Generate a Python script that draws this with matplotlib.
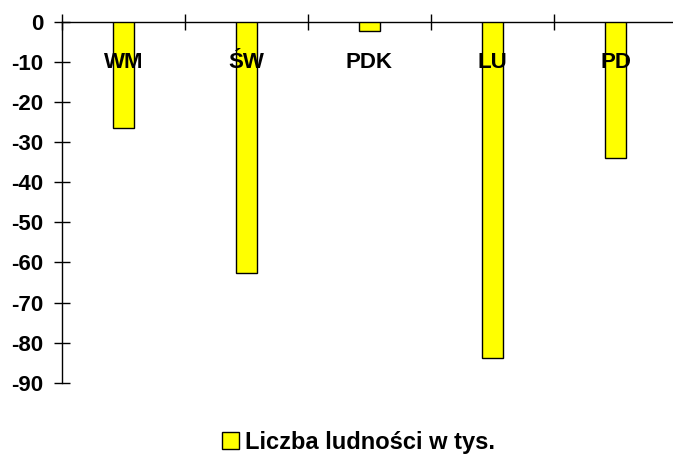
import numpy as np
import matplotlib.pyplot as plt

# data
categories = ["WM", "ŚW", "PDK", "LU", "PD"]
values = [-26.5, -62.5, -2.3, -83.9, -34.0]
series_name = "Liczba ludności w tys."
yticks = np.arange(-90, 1, 10)

plt.rcParams["font.family"] = ["Liberation Sans", "DejaVu Sans"]
plt.rcParams["font.weight"] = "bold"

fig = plt.figure(figsize=(6.73, 4.54), dpi=100)
ax = fig.add_axes([0.0921, 0.157, 0.9138, 0.7945])

x = np.arange(len(categories))
ax.bar(x, values, width=0.17, color="#FFFF00", edgecolor="black",
       linewidth=1, label=series_name, zorder=3)

ax.set_xlim(-0.5, len(categories) - 0.5)
ax.set_ylim(-90, 0)
ax.set_yticks(yticks)
ax.set_yticklabels([str(v) for v in yticks], fontsize=16, fontweight="bold")
ax.tick_params(axis="y", direction="inout", length=11, width=1, pad=8)

# x axis sits at zero (top), ticks between categories
ax.xaxis.set_ticks_position("top")
ax.set_xticks(np.arange(-0.5, len(categories), 1.0))
ax.tick_params(axis="x", direction="inout", length=11, width=1,
               labeltop=False, labelbottom=False)

for s in ["bottom", "right"]:
    ax.spines[s].set_visible(False)
ax.spines["top"].set_linewidth(1)
ax.spines["left"].set_linewidth(1)

# category labels inside the plot
for xi, name in zip(x, categories):
    ax.text(xi, -10, name, ha="center", va="center", fontsize=16,
            fontweight="bold", zorder=4)

fig.legend(loc="center", bbox_to_anchor=(0.533, 0.026), frameon=False,
           prop={"size": 17, "weight": "bold"}, handlelength=0.7,
           handleheight=0.7, handletextpad=0.25)

fig.savefig("out.png", dpi=100)
